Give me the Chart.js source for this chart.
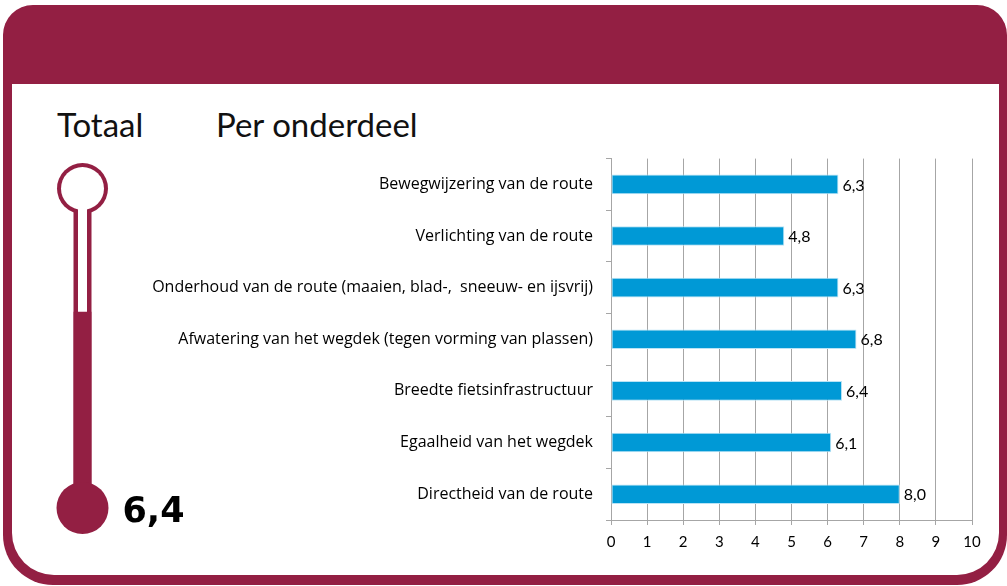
<!DOCTYPE html>
<html>
<head>
<meta charset="utf-8">
<script src="https://cdn.jsdelivr.net/npm/chart.js@4/dist/chart.umd.min.js"></script>
<style>
  html, body { margin: 0; padding: 0; background: #fff; }
  body { width: 1007px; height: 586px; position: relative; overflow: hidden; font-family: Lato, sans-serif; }
  #frame { position: absolute; left: 3px; top: 5px; width: 1004px; height: 580px; background: #931f43; border-radius: 30px 30px 50px 50px; }
  #inner { position: absolute; left: 12px; top: 84px; width: 987px; height: 491px; background: #fff; border-radius: 0 0 42px 42px; }
  .title { position: absolute; top: 108px; font-size: 33px; line-height: 33px; color: #111; white-space: nowrap; }
  #barChart { position: absolute; left: 0; top: 136px; }
  #thermo { position: absolute; left: 40px; top: 150px; }
</style>
</head>
<body>
<div id="frame"></div>
<div id="inner"></div>
<div class="title" style="left:57px">Totaal</div>
<div class="title" style="left:216px">Per onderdeel</div>
<canvas id="barChart" width="1000" height="429"></canvas>
<canvas id="thermo" width="170" height="400"></canvas>

<script>
const categories = [
    "Bewegwijzering van de route",
    "Verlichting van de route",
    "Onderhoud van de route (maaien, blad-,  sneeuw- en ijsvrij)",
    "Afwatering van het wegdek (tegen vorming van plassen)",
    "Breedte fietsinfrastructuur",
    "Egaalheid van het wegdek",
    "Directheid van de route"
]
const scores = [6.3, 4.8, 6.3, 6.8, 6.4, 6.1, 8.0]
const totalLabel = ["Totaal"]
const totalScore = [6.4]
const scaleMin = 0
const scaleMax = 10

const maroon = "#931f43"
const gridGray = "#a6a6a6"

Chart.defaults.font.family = "Lato, sans-serif"
Chart.defaults.font.size = 15
Chart.defaults.color = "#000"

function fmt(v) {
    return v.toFixed(1).replace(".", ",")
}

const valueLabels = {
    id: "valueLabels",
    afterDatasetsDraw(chart) {
        const ctx = chart.ctx
        const meta = chart.getDatasetMeta(0)
        ctx.save()
        ctx.font = "16px Lato, sans-serif"
        ctx.fillStyle = "#000"
        ctx.textAlign = "left"
        ctx.textBaseline = "middle"
        meta.data.forEach((bar, i) => {
            ctx.fillText(fmt(scores[i]), bar.x + 4, bar.y + 1)
        })
        ctx.restore()
    }
}

new Chart(document.getElementById("barChart"), {
    type: "bar",
    data: {
        labels: categories,
        datasets: [{
            data: scores,
            backgroundColor: "#0099d6",
            borderColor: "#b9e3f5",
            borderWidth: 1,
            borderSkipped: false,
            barPercentage: 0.38,
            categoryPercentage: 1
        }]
    },
    options: {
        indexAxis: "y",
        responsive: false,
        animation: false,
        layout: { padding: { top: 4, right: 28, bottom: 0, left: 0 } },
        plugins: { legend: { display: false }, tooltip: { enabled: false } },
        scales: {
            x: {
                min: scaleMin,
                max: scaleMax,
                ticks: { stepSize: 1, padding: 8, font: { size: 15 } },
                grid: { color: gridGray, tickLength: 5, lineWidth: 1 },
                border: { color: gridGray },
                afterFit(scale) { scale.height = 45 }
            },
            y: {
                ticks: { padding: 13, font: { family: "'Open Sans', sans-serif", size: 16 } },
                grid: { color: gridGray, drawOnChartArea: false, tickLength: 5, offset: true },
                border: { color: gridGray },
                afterFit(scale) { scale.width = 611 }
            }
        }
    },
    plugins: [valueLabels]
})

// thermometer: outline and bulbs around a single bar
const thermoShape = {
    id: "thermoShape",
    beforeDatasetsDraw(chart) {
        const ctx = chart.ctx
        const a = chart.chartArea
        const cx = (a.left + a.right) / 2
        const fillTop = chart.getDatasetMeta(0).data[0].y
        ctx.save()
        ctx.fillStyle = maroon
        ctx.beginPath()
        ctx.arc(cx, a.top - 23.5, 25.5, 0, Math.PI * 2)
        ctx.fill()
        ctx.fillRect(a.left, a.top - 23.5, a.right - a.left, a.bottom - a.top + 23.5)
        ctx.fillStyle = "#fff"
        ctx.beginPath()
        ctx.arc(cx, a.top - 23.5, 21.5, 0, Math.PI * 2)
        ctx.fill()
        ctx.fillRect(a.left + 4.5, a.top - 23.5, a.right - a.left - 9, fillTop - a.top + 23.5)
        ctx.restore()
    },
    afterDatasetsDraw(chart) {
        const ctx = chart.ctx
        const a = chart.chartArea
        const cx = (a.left + a.right) / 2
        ctx.save()
        ctx.fillStyle = maroon
        ctx.beginPath()
        ctx.arc(cx, a.bottom + 18, 26, 0, Math.PI * 2)
        ctx.fill()
        ctx.fillStyle = "#000"
        ctx.font = "bold 35px 'DejaVu Sans', sans-serif"
        ctx.textAlign = "left"
        ctx.textBaseline = "alphabetic"
        ctx.fillText(fmt(totalScore[0]), a.right + 31, a.bottom + 32)
        ctx.restore()
    }
}

new Chart(document.getElementById("thermo"), {
    type: "bar",
    data: {
        labels: totalLabel,
        datasets: [{
            data: totalScore,
            backgroundColor: maroon,
            barPercentage: 1,
            categoryPercentage: 1
        }]
    },
    options: {
        responsive: false,
        animation: false,
        layout: { padding: { top: 62, right: 118.5, bottom: 60, left: 33.5 } },
        plugins: { legend: { display: false }, tooltip: { enabled: false } },
        scales: {
            x: { display: false },
            y: { display: false, min: scaleMin, max: scaleMax }
        }
    },
    plugins: [thermoShape]
})
</script>
</body>
</html>
